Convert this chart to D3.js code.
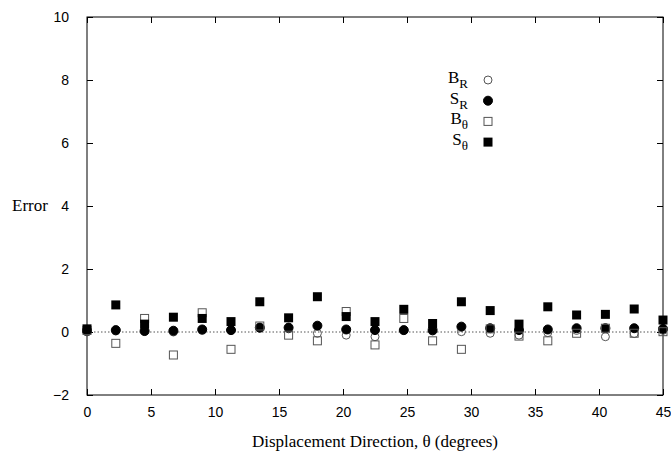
<!DOCTYPE html>
<html>
<head>
<meta charset="utf-8">
<script src="https://cdn.jsdelivr.net/npm/d3@7"></script>
<style>
    body { margin: 0; background: #fff; }
    .tick-label { font-family: "Liberation Sans", Arial, sans-serif; font-size: 14px; }
    .title { font-family: "Liberation Serif", "Times New Roman", serif; }
</style>
</head>
<body>
<div id="chart"></div>
<script>
// displacement direction (degrees)
const theta = [0, 2.25, 4.5, 6.75, 9, 11.25, 13.5, 15.75, 18, 20.25, 22.5,
    24.75, 27, 29.25, 31.5, 33.75, 36, 38.25, 40.5, 42.75, 45];

const errBR = [0.0, 0.03, 0.03, 0.0, 0.05, 0.05, 0.12, 0.1, -0.04, -0.1, -0.15,
    0.05, 0.03, 0.01, -0.04, -0.1, -0.02, 0.05, -0.15, -0.05, 0.05];
const errSR = [0.05, 0.06, 0.03, 0.04, 0.08, 0.06, 0.14, 0.14, 0.2, 0.08, 0.06,
    0.06, 0.06, 0.17, 0.12, 0.06, 0.08, 0.12, 0.12, 0.12, 0.1];
const errBT = [0.05, -0.36, 0.43, -0.73, 0.61, -0.55, 0.19, -0.1, -0.28, 0.65, -0.41,
    0.43, -0.28, -0.55, 0.1, -0.13, -0.28, -0.04, 0.12, -0.04, 0.01];
const errST = [0.1, 0.86, 0.25, 0.47, 0.43, 0.33, 0.96, 0.45, 1.12, 0.49, 0.33,
    0.72, 0.27, 0.96, 0.68, 0.25, 0.8, 0.54, 0.56, 0.73, 0.38];

const xTicks = [0, 5, 10, 15, 20, 25, 30, 35, 40, 45];
const yTicks = [-2, 0, 2, 4, 6, 8, 10];

// series in gnuplot plot order
const series = [
    {letter: 'B', sub: 'R', values: errBR, shape: 'circle', filled: false},
    {letter: 'S', sub: 'R', values: errSR, shape: 'circle', filled: true},
    {letter: 'B', sub: 'θ', values: errBT, shape: 'square', filled: false},
    {letter: 'S', sub: 'θ', values: errST, shape: 'square', filled: true}
];

const totalWidth = 671, totalHeight = 459;
const margin = {top: 17, right: 8, bottom: 64, left: 87};
const width = totalWidth - margin.left - margin.right;
const height = totalHeight - margin.top - margin.bottom;

const svg = d3.select('#chart').append('svg')
    .attr('width', totalWidth)
    .attr('height', totalHeight)
    .append('g')
    .attr('transform', `translate(${margin.left},${margin.top})`);

const x = d3.scaleLinear().domain([0, 45]).range([0, width]);
const y = d3.scaleLinear().domain([-2, 10]).range([height, 0]);

// zero line
svg.append('line')
    .attr('x1', 0).attr('x2', width)
    .attr('y1', y(0)).attr('y2', y(0))
    .attr('stroke', '#555')
    .attr('stroke-width', 1)
    .attr('stroke-dasharray', '1.5,2');

// ticks on all four sides, pointing inward
const tickLen = 6;
svg.append('g')
    .attr('transform', `translate(0,${height})`)
    .call(d3.axisBottom(x).tickValues(xTicks).tickSize(-tickLen).tickPadding(12))
    .call(g => g.select('.domain').remove());
svg.append('g')
    .call(d3.axisTop(x).tickValues(xTicks).tickSize(-tickLen).tickFormat(''))
    .call(g => g.select('.domain').remove());
svg.append('g')
    .call(d3.axisLeft(y).tickValues(yTicks).tickSize(-tickLen).tickPadding(18))
    .call(g => g.select('.domain').remove());
svg.append('g')
    .attr('transform', `translate(${width},0)`)
    .call(d3.axisRight(y).tickValues(yTicks).tickSize(-tickLen).tickFormat(''))
    .call(g => g.select('.domain').remove());

svg.selectAll('.tick text')
    .attr('class', 'tick-label')
    .attr('fill', '#000')
    .style('font-size', null)
    .style('font-family', null);
svg.selectAll('.tick text').attr('font-size', null).attr('font-family', null);
svg.selectAll('.tick line').attr('stroke', '#000');

// frame
svg.append('rect')
    .attr('width', width)
    .attr('height', height)
    .attr('fill', 'none')
    .attr('stroke', '#000')
    .attr('stroke-width', 1);

function drawMarker(g, s, cx, cy) {
    if (s.shape === 'circle') {
        g.append('circle')
            .attr('cx', cx).attr('cy', cy)
            .attr('r', s.filled ? 4.5 : 4)
            .attr('fill', s.filled ? '#000' : 'none')
            .attr('stroke', s.filled ? '#000' : '#555')
            .attr('stroke-width', 1);
    } else {
        const half = s.filled ? 4.5 : 4;
        g.append('rect')
            .attr('x', cx - half).attr('y', cy - half)
            .attr('width', half * 2).attr('height', half * 2)
            .attr('fill', s.filled ? '#000' : 'none')
            .attr('stroke', s.filled ? 'none' : '#555')
            .attr('stroke-width', 1);
    }
}

// points
series.forEach(s => {
    const g = svg.append('g');
    s.values.forEach((v, i) => drawMarker(g, s, x(theta[i]), y(v)));
});

// legend
const legend = svg.append('g')
    .attr('transform', `translate(${468 - margin.left},${80 - margin.top})`);
series.forEach((s, i) => {
    const row = legend.append('g').attr('transform', `translate(0,${i * 20.7})`);
    const t = row.append('text')
        .attr('class', 'title')
        .attr('text-anchor', 'end')
        .attr('y', 3)
        .style('font-size', '17px');
    t.append('tspan').text(s.letter);
    t.append('tspan').text(s.sub).attr('dy', 5).style('font-size', '13px');
    drawMarker(row, s, 20, 0);
});

// axis titles
svg.append('text')
    .attr('class', 'title')
    .attr('x', width / 2)
    .attr('y', height + 52)
    .attr('text-anchor', 'middle')
    .style('font-size', '17px')
    .text('Displacement Direction, θ (degrees)');

svg.append('text')
    .attr('class', 'title')
    .attr('x', 30 - margin.left)
    .attr('y', 211 - margin.top)
    .attr('text-anchor', 'middle')
    .style('font-size', '17px')
    .text('Error');
</script>
</body>
</html>
